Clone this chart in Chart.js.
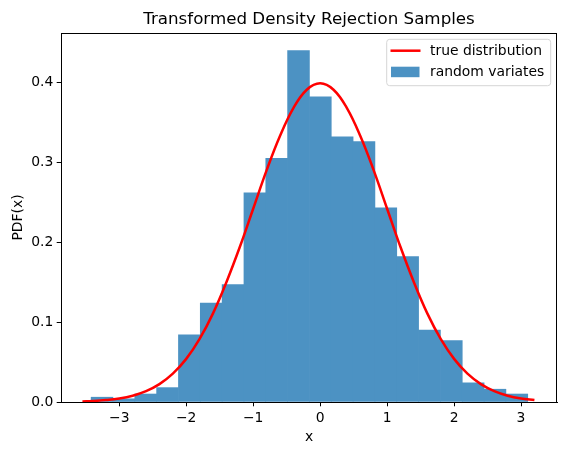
<!DOCTYPE html>
<html>
<head>
<meta charset="utf-8">
<script src="https://cdn.jsdelivr.net/npm/chart.js@4"></script>
<style>
  html, body { margin: 0; padding: 0; background: #fff; }
  #wrap { width: 567px; height: 455px; }
</style>
</head>
<body>
<div id="wrap"><canvas id="c" width="567" height="455"></canvas></div>
<script>
// ---- data ----
const binEdges = [-3.420, -3.094, -2.768, -2.442, -2.116, -1.790, -1.464, -1.138, -0.812, -0.486,
                  -0.160, 0.166, 0.492, 0.818, 1.144, 1.470, 1.796, 2.122, 2.448, 2.774, 3.100];
const binHeights = [0.006, 0.004, 0.010, 0.018, 0.084, 0.124, 0.147, 0.262, 0.305, 0.440,
                    0.382, 0.332, 0.326, 0.243, 0.182, 0.090, 0.077, 0.024, 0.016, 0.010];
const curveX = [-3.55, -3.4, -3.2, -3.0, -2.8, -2.6, -2.4, -2.2, -2.0, -1.8, -1.6, -1.4, -1.2, -1.0,
                -0.8, -0.6, -0.4, -0.2, 0.0, 0.2, 0.4, 0.6, 0.8, 1.0, 1.2, 1.4, 1.6, 1.8,
                2.0, 2.2, 2.4, 2.6, 2.8, 3.0, 3.2];
const curveY = [0.0007, 0.0012, 0.0024, 0.0044, 0.0079, 0.0136, 0.0224, 0.0355, 0.054, 0.079, 0.111, 0.150, 0.194, 0.242,
                0.290, 0.333, 0.368, 0.391, 0.399, 0.391, 0.368, 0.333, 0.290, 0.242, 0.194, 0.150, 0.111, 0.079,
                0.054, 0.0355, 0.0224, 0.0136, 0.0079, 0.0044, 0.0024];
const xTicks = [-3, -2, -1, 0, 1, 2, 3];
const yTicks = [0.0, 0.1, 0.2, 0.3, 0.4];
const titleText = 'Transformed Density Rejection Samples';
const xLabel = 'x';
const yLabel = 'PDF(x)';
const curveLabel = 'true distribution';
const barLabel = 'random variates';

const FONT = 'DejaVu Sans';
const FS = 13.9;
const BAR_COLOR = 'rgb(76,146,195)';

const barData = binHeights.map((h, i) => ({ x: (binEdges[i] + binEdges[i + 1]) / 2, y: h }));
const lineData = curveX.map((x, i) => ({ x: x, y: curveY[i] }));

const framePlugin = {
  id: 'frame',
  afterDraw(chart) {
    const { ctx, chartArea: a } = chart;
    ctx.save();
    ctx.strokeStyle = '#000';
    ctx.lineWidth = 1;
    ctx.beginPath();
    ctx.moveTo(a.left, a.top + 0.5);
    ctx.lineTo(a.right, a.top + 0.5);
    ctx.moveTo(a.right - 0.5, a.top);
    ctx.lineTo(a.right - 0.5, a.bottom);
    ctx.stroke();

    // title centred over the axes
    ctx.fillStyle = '#000';
    ctx.font = '16.7px "' + FONT + '"';
    ctx.textAlign = 'center';
    ctx.textBaseline = 'middle';
    ctx.fillText(titleText, (a.left + a.right) / 2, 20);

    // legend box (upper right, inside axes)
    const bx = 386.7, by = 39.3, bw = 164, bh = 46.4, r = 3;
    ctx.beginPath();
    ctx.moveTo(bx + r, by);
    ctx.lineTo(bx + bw - r, by);
    ctx.arcTo(bx + bw, by, bx + bw, by + r, r);
    ctx.lineTo(bx + bw, by + bh - r);
    ctx.arcTo(bx + bw, by + bh, bx + bw - r, by + bh, r);
    ctx.lineTo(bx + r, by + bh);
    ctx.arcTo(bx, by + bh, bx, by + bh - r, r);
    ctx.lineTo(bx, by + r);
    ctx.arcTo(bx, by, bx + r, by, r);
    ctx.closePath();
    ctx.fillStyle = 'rgba(255,255,255,0.8)';
    ctx.fill();
    ctx.strokeStyle = '#d6d6d6';
    ctx.lineWidth = 1;
    ctx.stroke();

    ctx.strokeStyle = 'red';
    ctx.lineWidth = 2.5;
    ctx.beginPath();
    ctx.moveTo(390.5, 50.7);
    ctx.lineTo(420.5, 50.7);
    ctx.stroke();

    ctx.fillStyle = BAR_COLOR;
    ctx.fillRect(391, 66.7, 28.5, 10.5);

    ctx.fillStyle = '#000';
    ctx.font = FS + 'px "' + FONT + '"';
    ctx.textAlign = 'left';
    ctx.textBaseline = 'middle';
    ctx.fillText(curveLabel, 430, 51);
    ctx.fillText(barLabel, 430, 72.5);
    ctx.restore();
  }
};

new Chart(document.getElementById('c'), {
  data: {
    datasets: [
      {
        type: 'line',
        label: curveLabel,
        data: lineData,
        borderColor: 'red',
        borderWidth: 2.5,
        pointRadius: 0,
        fill: false,
        tension: 0.4,
        order: 0
      },
      {
        type: 'bar',
        label: barLabel,
        data: barData,
        backgroundColor: BAR_COLOR,
        borderWidth: 0,
        barPercentage: 1,
        categoryPercentage: 1,
        grouped: false,
        order: 1
      }
    ]
  },
  options: {
    responsive: false,
    animation: false,
    layout: { padding: { left: 0, right: 10, top: 33, bottom: 0 } },
    plugins: {
      legend: { display: false },
      tooltip: { enabled: false },
      title: { display: false }
    },
    scales: {
      x: {
        type: 'linear',
        min: -3.87,
        max: 3.537,
        offset: false,
        afterFit(s) { s.height = 53; },
        afterBuildTicks(s) { s.ticks = xTicks.map(v => ({ value: v })); },
        ticks: {
          color: '#000',
          font: { family: FONT, size: FS },
          padding: 3.5,
          maxRotation: 0,
          autoSkip: false,
          callback: v => String(v).replace('-', '\u2212')
        },
        grid: { display: true, offset: false, drawOnChartArea: false, drawTicks: true, tickLength: 4.3, tickColor: '#000', tickWidth: 1 },
        border: { display: true, color: '#000', width: 1 },
        title: {
          display: true, text: xLabel, color: '#000',
          font: { family: FONT, size: FS, lineHeight: 1.2 },
          padding: { top: 0, bottom: 9 }
        }
      },
      y: {
        type: 'linear',
        min: 0,
        max: 0.462,
        afterFit(s) { s.width = 61; },
        afterBuildTicks(s) { s.ticks = yTicks.map(v => ({ value: v })); },
        ticks: {
          color: '#000',
          font: { family: FONT, size: FS },
          padding: 3.4,
          autoSkip: false,
          callback: v => Number(v).toFixed(1)
        },
        grid: { display: true, offset: false, drawOnChartArea: false, drawTicks: true, tickLength: 4.3, tickColor: '#000', tickWidth: 1 },
        border: { display: true, color: '#000', width: 1 },
        title: {
          display: true, text: yLabel, color: '#000',
          font: { family: FONT, size: FS, lineHeight: 1.2 },
          padding: { top: 9.7, bottom: 0 }
        }
      }
    }
  },
  plugins: [framePlugin]
});
</script>
</body>
</html>
